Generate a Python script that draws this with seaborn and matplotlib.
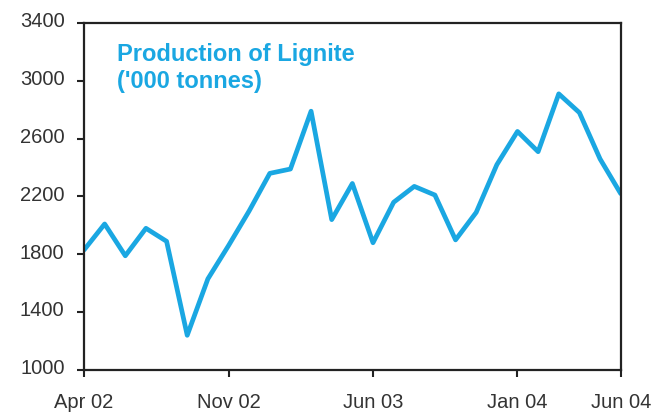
import numpy as np
import pandas as pd
import matplotlib
matplotlib.use("Agg")
import matplotlib.pyplot as plt
import matplotlib.transforms as mtransforms
import seaborn as sns

# monthly lignite production, Apr 02 .. Jun 04 ('000 tonnes)
months = pd.date_range("2002-04-01", "2004-06-01", freq="MS")
production = [1830, 2010, 1790, 1980, 1890, 1240, 1630, 1860, 2100, 2360,
              2390, 2790, 2040, 2290, 1880, 2160, 2270, 2210, 1900, 2090,
              2420, 2650, 2510, 2910, 2780, 2460, 2220]
tick_labels = ["Apr 02", "Nov 02", "Jun 03", "Jan 04", "Jun 04"]
tick_months = [0, 7, 14, 21, 26]
y_ticks = [1000, 1400, 1800, 2200, 2600, 3000, 3400]

df = pd.DataFrame({"month": np.arange(len(months)), "production": production})

sns.set_style("white")
plt.rcParams["font.family"] = ["Liberation Sans", "DejaVu Sans"]

blue = "#1aa7e2"
fig = plt.figure(figsize=(6.7, 4.14), dpi=100)
ax = fig.add_axes([0.1254, 0.1039, 0.801, 0.8381])

sns.lineplot(data=df, x="month", y="production", ax=ax, color=blue, linewidth=3.4)

ax.set_xlim(0, 26)
ax.set_ylim(1000, 3400)
ax.set_xticks(tick_months)
ax.set_xticklabels(tick_labels)
ax.set_yticks(y_ticks)
ax.set_xlabel("")
ax.set_ylabel("")
ax.tick_params(axis="both", direction="out", length=5, width=1.5, colors="#222222",
               labelsize=14.5, labelcolor="#333333", bottom=True, left=True)
ax.tick_params(axis="x", pad=11)
ax.tick_params(axis="y", pad=9)
# y labels sit slightly above their ticks in the original
shift = mtransforms.ScaledTranslation(0, 3 / 72, fig.dpi_scale_trans)
for lab in ax.get_yticklabels():
    lab.set_transform(lab.get_transform() + shift)
for sp in ax.spines.values():
    sp.set_visible(True)
    sp.set_color("#222222")
    sp.set_linewidth(1.6)

ax.text(0.061, 0.945, "Production of Lignite\n('000 tonnes)", transform=ax.transAxes,
        ha="left", va="top", color=blue, fontsize=17, fontweight="bold",
        linespacing=1.2)

fig.savefig("out.png", dpi=100)
